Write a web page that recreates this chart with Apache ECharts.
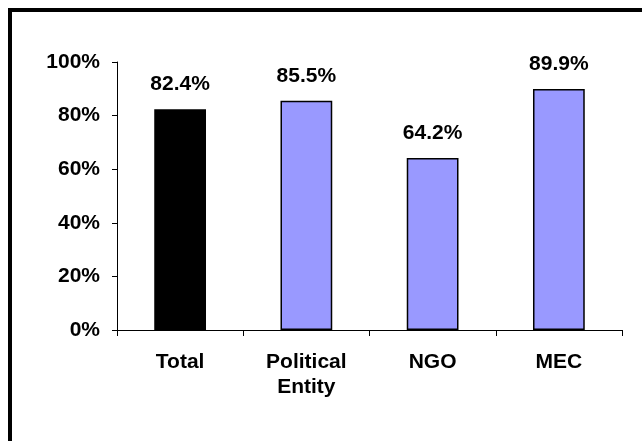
<!DOCTYPE html>
<html>
<head>
<meta charset="utf-8">
<script src="https://cdn.jsdelivr.net/npm/echarts@6/dist/echarts.min.js"></script>
<style>
  html, body { margin: 0; padding: 0; background: #fff; overflow: hidden; }
  #frame {
    position: absolute; left: 8px; top: 8px;
    width: 700px; height: 500px;
    border: 4px solid #000; box-sizing: border-box;
  }
  #chart { position: absolute; left: 0; top: 0; width: 642px; height: 441px; }
</style>
</head>
<body>
<div id="frame"></div>
<div id="chart"></div>
<script>
  // data
  let categories = ['Total', 'Political\nEntity', 'NGO', 'MEC']
  let shares = [82.4, 85.5, 64.2, 89.9]
  let barColors = ['#000000', '#9999ff', '#9999ff', '#9999ff']
  let yTicks = [0, 20, 40, 60, 80, 100]

  let font = 'Liberation Sans, Arial, sans-serif'
  let option = {
    animation: false,
    grid: { left: 117, right: 20, top: 62, bottom: 111 },
    xAxis: {
      type: 'category',
      data: categories,
      axisLine: { lineStyle: { color: '#000', width: 1 } },
      axisTick: { show: true, length: 6, lineStyle: { color: '#000' } },
      axisLabel: {
        color: '#000', fontFamily: font, fontWeight: 'bold', fontSize: 21,
        lineHeight: 25, margin: 20
      }
    },
    yAxis: {
      type: 'value',
      min: yTicks[0],
      max: yTicks[yTicks.length - 1],
      interval: 20,
      splitLine: { show: false },
      axisLine: { show: true, lineStyle: { color: '#000', width: 1 } },
      axisTick: { show: true, length: 5, lineStyle: { color: '#000' } },
      axisLabel: {
        color: '#000', fontFamily: font, fontWeight: 'bold', fontSize: 21, margin: 17,
        formatter: '{value}%'
      }
    },
    series: [{
      type: 'bar',
      barWidth: '41%',
      data: shares.map((v, i) => ({
        value: v,
        itemStyle: { color: barColors[i], borderColor: '#000', borderWidth: 1.5 }
      })),
      label: {
        show: true, position: 'top', distance: 14,
        color: '#000', fontFamily: font, fontWeight: 'bold', fontSize: 21,
        formatter: p => p.value.toFixed(1) + '%'
      }
    }]
  }
  let myChart = echarts.init(document.getElementById('chart'))
  myChart.setOption(option)
</script>
</body>
</html>
